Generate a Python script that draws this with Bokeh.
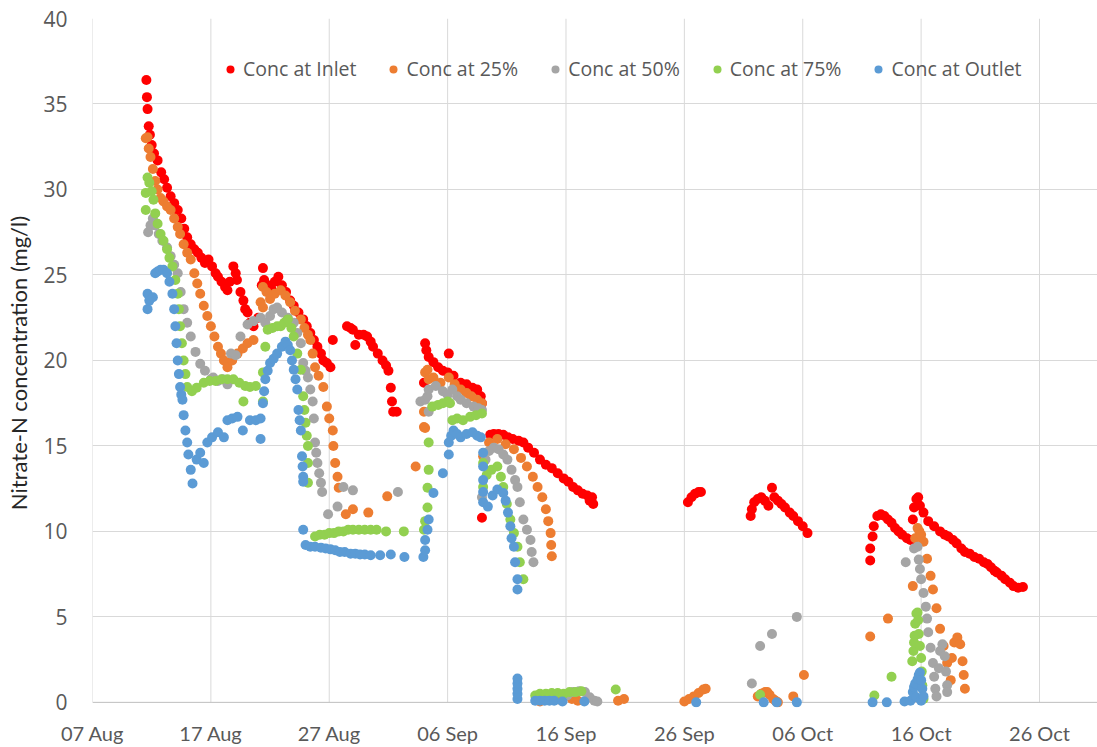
from bokeh.plotting import figure
from bokeh.models import Range1d, FixedTicker, Legend, LegendItem, Span
from bokeh.embed import file_html
from bokeh.resources import INLINE

# x = days after 07 Aug, y = nitrate-N concentration (mg/l)
tick_days = [0, 10, 20, 30, 40, 50, 60, 70, 80]
tick_labels = ["07 Aug", "17 Aug", "27 Aug", "06 Sep", "16 Sep", "26 Sep", "06 Oct", "16 Oct", "26 Oct"]
y_ticks = [0, 5, 10, 15, 20, 25, 30, 35, 40]

series_names = ["Conc at Inlet", "Conc at 25%", "Conc at 50%", "Conc at 75%", "Conc at Outlet"]
series_colors = ["#FF0000", "#ED7D31", "#A5A5A5", "#92D050", "#5B9BD5"]

inlet = [
    (4.55, 36.4), (4.6, 35.4), (4.65, 34.7), (4.75, 33.7), (4.85, 33.2), (5.0, 32.6), (5.2, 32.1), (5.5, 31.7),
    (5.8, 31.0), (6.05, 30.6), (6.3, 30.1), (6.6, 29.6), (6.9, 29.2), (7.2, 28.8), (7.5, 28.3), (7.75, 27.7),
    (8.0, 27.2), (8.3, 26.8), (8.6, 26.5), (8.9, 26.3), (9.2, 26.0), (9.5, 25.7), (9.8, 25.9), (10.1, 25.5),
    (10.4, 25.1), (10.6, 24.9), (10.9, 24.6), (11.2, 24.3), (11.4, 24.1), (11.6, 24.6), (11.9, 25.5), (12.1, 25.1),
    (12.2, 24.7), (12.5, 24.0), (12.75, 23.5), (12.9, 23.0), (13.1, 22.8), (13.3, 22.2), (13.6, 22.0), (14.0, 22.5),
    (14.3, 24.4), (14.4, 25.4), (14.5, 24.7), (14.8, 24.4), (15.1, 24.2), (15.4, 24.6), (15.7, 24.9), (16.0, 24.4),
    (16.35, 24.0), (16.7, 23.5), (17.0, 23.2), (17.4, 22.8), (17.8, 22.4), (18.1, 22.0), (18.4, 21.6), (18.7, 21.2),
    (19.0, 20.8), (19.3, 20.4), (19.5, 20.0), (19.8, 19.85), (20.1, 19.6), (20.3, 21.2),
    (21.5, 22.0), (21.8, 21.9), (22.0, 21.8), (22.2, 20.9), (22.5, 21.5), (22.9, 21.5), (23.2, 21.4), (23.5, 21.1),
    (23.7, 20.8), (24.1, 20.4), (24.5, 20.0), (24.8, 19.7), (25.0, 19.4), (25.2, 18.4), (25.3, 17.6), (25.4, 17.0),
    (25.7, 17.0),
    (28.0, 18.7), (28.1, 21.0), (28.2, 20.6), (28.4, 20.2), (28.8, 19.9), (29.2, 19.6), (29.6, 19.4), (30.0, 19.3),
    (30.1, 20.4), (30.5, 19.1), (31.1, 18.7), (31.6, 18.6), (32.1, 18.4), (32.5, 18.3), (32.8, 17.9), (32.9, 17.5),
    (32.9, 10.8),
    (33.6, 15.65), (33.9, 15.7), (34.3, 15.7), (34.7, 15.65), (35.1, 15.5), (35.5, 15.4), (36.0, 15.3), (36.4, 15.2),
    (36.8, 14.9), (37.3, 14.6), (37.8, 14.2), (38.3, 13.9), (38.8, 13.7), (39.3, 13.4), (39.8, 13.1), (40.2, 12.9),
    (40.6, 12.6), (41.0, 12.4), (41.4, 12.2), (41.8, 12.1), (42.0, 11.8), (42.2, 12.0), (42.3, 11.6),
    (50.3, 11.7), (50.6, 12.0), (50.9, 12.2), (51.2, 12.3), (51.4, 12.3),
    (55.6, 10.9), (55.7, 11.3), (55.9, 11.7), (56.2, 11.9), (56.5, 12.0), (56.8, 11.8), (57.1, 11.5), (57.4, 12.55),
    (57.6, 12.0), (57.9, 11.8), (58.2, 11.6), (58.5, 11.4), (58.9, 11.1), (59.2, 10.9), (59.6, 10.6), (60.0, 10.3),
    (60.4, 9.9),
    (65.7, 8.3), (65.7, 9.0), (65.9, 9.7), (66.0, 10.3), (66.3, 10.9), (66.6, 11.0), (66.9, 10.9), (67.2, 10.7),
    (67.5, 10.5), (67.8, 10.2), (68.1, 10.0), (68.4, 9.8), (68.8, 9.6), (69.1, 9.5), (69.3, 10.7), (69.4, 11.4),
    (69.6, 11.9), (69.75, 12.0), (69.9, 11.5), (70.2, 11.1), (70.6, 10.6), (71.1, 10.3), (71.6, 10.0), (72.0, 9.8),
    (72.3, 9.7), (72.7, 9.5), (73.0, 9.3), (73.4, 9.0), (73.7, 8.8), (74.1, 8.7), (74.5, 8.5), (74.9, 8.4),
    (75.3, 8.2), (75.6, 8.1), (75.9, 7.9), (76.2, 7.7), (76.4, 7.6), (76.8, 7.4), (77.1, 7.2), (77.5, 7.0),
    (77.8, 6.8), (78.2, 6.7), (78.6, 6.75),
]

conc25 = [
    (4.5, 33.0), (4.65, 33.05), (4.75, 32.4), (4.9, 31.9), (5.1, 31.2), (5.3, 30.5), (5.5, 30.0), (5.75, 29.5),
    (6.0, 29.3), (6.3, 29.0), (6.6, 28.8), (6.9, 28.3), (7.2, 27.8), (7.4, 27.4), (7.7, 26.8), (8.0, 26.3),
    (8.3, 25.9), (8.6, 25.1), (8.85, 24.5), (9.1, 23.9), (9.4, 23.2), (9.7, 22.6), (10.0, 22.0), (10.3, 21.4),
    (10.6, 20.8), (10.85, 20.4), (11.1, 20.0), (11.4, 19.6), (11.8, 20.0), (12.25, 20.4), (12.7, 20.7), (13.1, 21.0),
    (13.6, 21.2),
    (14.2, 23.4), (14.4, 23.1), (14.4, 24.3), (14.7, 24.0), (15.0, 23.6), (15.4, 23.9), (15.9, 24.1), (16.3, 23.8),
    (16.7, 23.4), (17.1, 22.9), (17.6, 22.4), (17.9, 21.9), (18.2, 21.5), (18.4, 21.2), (18.6, 20.4), (18.8, 19.6),
    (19.1, 19.1), (19.5, 18.45), (19.8, 17.3), (20.0, 16.6), (20.3, 15.9), (20.35, 15.0), (20.5, 14.0), (20.7, 13.2),
    (20.8, 12.55),
    (21.4, 11.0), (22.0, 11.3), (23.3, 11.1), (24.9, 12.05), (27.3, 13.8),
    (28.0, 17.0), (28.0, 16.1), (28.1, 16.05), (28.1, 19.3), (28.3, 19.45), (28.4, 18.9), (28.8, 19.0), (29.4, 18.7),
    (30.1, 19.0), (30.6, 18.6), (31.1, 18.3), (31.6, 18.1), (32.0, 17.9), (32.5, 17.7), (32.9, 17.5),
    (33.0, 14.4), (33.5, 15.2), (34.2, 15.4), (34.9, 15.1), (35.6, 14.8), (36.2, 14.3), (36.7, 13.8), (37.2, 13.2),
    (37.6, 12.6), (38.0, 12.0), (38.3, 11.3), (38.5, 10.6), (38.7, 9.9), (38.75, 9.2), (38.8, 8.55),
    (37.8, 0.05), (39.5, 0.15), (40.5, 0.2), (41.0, 0.1), (44.4, 0.1), (44.9, 0.2),
    (50.0, 0.05), (50.4, 0.2), (50.8, 0.35), (51.2, 0.55), (51.6, 0.75), (51.8, 0.8),
    (56.2, 0.35), (56.5, 0.5), (56.8, 0.6), (57.0, 0.6), (57.2, 0.45), (57.5, 0.2), (57.7, 0.1), (57.9, 0.0),
    (59.2, 0.35), (60.1, 1.6),
    (65.7, 3.85), (67.2, 4.9), (69.3, 6.8), (69.5, 9.6), (69.7, 10.2), (69.85, 10.0), (70.0, 9.8), (70.2, 9.4),
    (70.5, 8.4), (70.8, 7.4), (71.0, 6.6), (71.3, 5.5), (71.6, 4.3), (71.9, 3.3), (72.2, 2.3), (72.5, 1.3),
    (72.6, 2.6), (72.8, 3.5), (73.06, 3.8), (73.3, 3.4), (73.5, 2.4), (73.6, 1.6), (73.7, 0.8),
]

conc50 = [
    (4.7, 27.5), (4.9, 27.9), (5.1, 28.3), (5.3, 27.9), (5.6, 27.4), (5.9, 27.0), (6.3, 26.6), (6.6, 26.1),
    (6.9, 25.6), (7.2, 25.1), (7.45, 24.0), (7.7, 23.0), (8.0, 22.2), (8.3, 21.4), (8.7, 20.5), (9.1, 19.8),
    (9.5, 19.4), (10.0, 18.9), (10.2, 19.0), (10.6, 18.8), (11.0, 18.9), (11.4, 18.6), (11.7, 20.4), (12.1, 20.3),
    (12.5, 21.4), (13.1, 22.1), (13.6, 22.3), (14.2, 22.5), (14.6, 22.2), (15.0, 22.6), (15.3, 23.0), (15.6, 23.1),
    (16.0, 22.8), (16.5, 22.5), (17.0, 22.2), (17.3, 21.6), (17.6, 21.0), (17.8, 19.85), (18.0, 19.4), (18.2, 19.0),
    (18.4, 18.3), (18.6, 17.6), (18.7, 16.6), (18.8, 15.2), (18.9, 14.6), (19.0, 14.0), (19.15, 13.4), (19.3, 12.85),
    (19.4, 12.3),
    (19.9, 11.0), (20.7, 11.45), (21.2, 12.6), (22.0, 12.4), (25.8, 12.3),
    (27.7, 17.6), (28.1, 17.7), (28.3, 17.9), (28.4, 18.3), (28.4, 17.0), (29.0, 18.5), (29.6, 18.2), (30.0, 18.0),
    (30.4, 18.3), (30.8, 17.9), (31.1, 17.7), (31.6, 17.5), (32.2, 17.3), (32.6, 17.2), (32.9, 17.1), (32.9, 12.0),
    (33.2, 14.2), (33.5, 14.7), (33.9, 14.9), (34.3, 14.8), (34.7, 14.5), (35.05, 14.2), (35.4, 13.6), (35.7, 13.0),
    (35.9, 12.6), (36.1, 11.7), (36.4, 10.7), (36.7, 10.1), (37.0, 9.5), (37.1, 8.8), (37.25, 8.2),
    (40.1, 0.4), (40.6, 0.6), (41.1, 0.65), (41.6, 0.6), (42.0, 0.3), (42.4, 0.1), (42.65, 0.05),
    (55.7, 1.1), (56.4, 3.3), (57.4, 4.0), (59.5, 5.0),
    (68.7, 8.2), (69.4, 9.0), (69.7, 9.1), (69.8, 8.35), (69.9, 7.8), (70.0, 7.2), (70.2, 6.4), (70.4, 5.6),
    (70.5, 4.9), (70.6, 4.1), (70.8, 3.2), (71.0, 2.3), (71.1, 1.5), (71.2, 0.8), (71.3, 0.35), (71.5, 2.0),
    (71.6, 3.0), (71.8, 3.4), (72.0, 2.7), (72.1, 1.8), (72.2, 1.0), (72.2, 0.6),
]

conc75 = [
    (4.5, 28.8), (4.5, 29.8), (4.65, 30.7), (4.8, 30.4), (5.0, 29.9), (5.15, 29.4), (5.3, 28.6), (5.5, 28.0),
    (5.75, 27.4), (6.0, 27.0), (6.3, 26.5), (6.5, 26.0), (6.75, 25.5), (7.0, 24.7), (7.2, 23.9), (7.3, 23.0),
    (7.4, 22.0), (7.55, 21.0), (7.7, 20.0), (7.85, 19.2), (8.0, 18.45), (8.4, 18.2), (8.8, 18.4), (9.4, 18.7),
    (9.9, 18.8), (10.4, 18.8), (10.9, 18.9), (11.4, 18.9), (11.9, 18.9), (12.4, 18.7), (12.75, 17.6), (12.9, 18.5),
    (13.3, 18.45), (13.8, 18.5), (14.4, 19.3), (14.4, 17.6), (14.6, 20.8), (14.8, 21.8), (15.2, 21.9), (15.6, 22.0),
    (15.9, 22.0), (16.2, 22.2), (16.5, 22.4), (16.8, 21.9), (17.0, 21.4), (17.3, 20.4), (17.6, 19.45), (17.8, 17.9),
    (17.9, 17.1), (18.0, 16.35), (18.1, 15.6), (18.2, 15.0), (18.2, 14.0), (18.2, 12.85),
    (18.8, 9.7), (19.2, 9.8), (19.6, 9.8), (20.0, 9.9), (20.4, 9.9), (20.8, 10.0), (21.2, 10.0), (21.6, 10.1),
    (22.0, 10.1), (22.5, 10.1), (23.0, 10.1), (23.5, 10.1), (24.0, 10.1), (24.8, 10.0), (26.3, 10.0),
    (28.0, 10.1), (28.1, 10.6), (28.3, 11.4), (28.3, 12.55), (28.4, 13.6), (28.4, 15.2), (28.7, 17.3), (29.2, 17.4),
    (29.6, 17.5), (30.0, 17.6), (30.2, 17.5), (30.4, 16.5), (30.8, 16.6), (31.3, 16.5), (31.9, 16.7), (32.4, 16.8),
    (32.9, 16.9), (33.0, 14.0), (33.0, 12.6), (33.3, 13.3), (33.7, 13.6), (34.2, 13.8), (34.5, 13.2), (34.7, 12.6),
    (35.0, 11.6), (35.3, 10.7), (35.6, 9.9), (35.9, 9.1), (36.1, 8.2), (36.4, 7.2),
    (37.4, 0.4), (37.8, 0.5), (38.3, 0.5), (38.8, 0.55), (39.3, 0.55), (39.8, 0.5), (40.3, 0.6), (40.8, 0.6),
    (41.3, 0.65), (44.2, 0.75),
    (56.4, 0.45), (66.05, 0.4), (67.5, 1.5), (69.25, 2.4), (69.35, 3.0), (69.4, 3.5), (69.45, 3.9), (69.5, 4.6),
    (69.6, 5.2), (69.7, 5.25), (69.75, 4.8), (69.8, 4.0), (69.9, 3.3), (70.0, 2.6), (70.05, 1.8), (70.1, 1.0),
    (70.2, 0.2),
]

outlet = [
    (4.65, 23.0), (4.65, 23.9), (4.8, 23.5), (5.1, 23.7), (5.3, 25.1), (5.5, 25.2), (5.75, 25.3), (6.0, 25.3),
    (6.3, 25.1), (6.5, 24.6), (6.75, 23.9), (6.9, 23.0), (7.0, 22.0), (7.1, 21.0), (7.2, 20.0), (7.3, 19.2),
    (7.4, 18.45), (7.5, 18.0), (7.6, 17.7), (7.7, 16.8), (7.85, 15.9), (8.0, 15.2), (8.1, 14.5), (8.3, 13.6),
    (8.45, 12.8), (8.8, 14.2), (9.1, 14.6), (9.4, 14.0), (9.7, 15.2), (10.1, 15.5), (10.6, 15.8), (11.1, 15.5),
    (11.4, 16.5), (11.8, 16.6), (12.25, 16.7), (12.7, 15.9), (13.3, 16.5), (13.8, 16.5), (14.2, 16.6), (14.2, 15.4),
    (14.4, 17.5), (14.5, 18.2), (14.6, 18.9), (14.8, 19.4), (15.0, 19.85), (15.3, 20.1), (15.6, 20.4), (16.0, 20.8),
    (16.3, 21.1), (16.5, 20.9), (16.7, 20.6), (16.85, 20.0), (17.0, 19.45), (17.15, 18.9), (17.3, 18.3), (17.4, 17.1),
    (17.5, 16.5), (17.6, 15.9), (17.7, 14.4), (17.75, 13.8), (17.8, 13.2), (17.8, 12.9),
    (17.8, 10.1), (18.0, 9.2), (18.4, 9.1), (18.8, 9.1), (19.3, 9.05), (19.7, 9.0), (20.1, 8.95), (20.5, 8.9),
    (20.9, 8.8), (21.3, 8.8), (21.8, 8.7), (22.2, 8.7), (22.6, 8.65), (23.0, 8.65), (23.5, 8.6), (24.3, 8.6),
    (25.2, 8.65), (26.35, 8.5),
    (27.95, 8.5), (28.1, 8.9), (28.1, 9.5), (28.3, 10.1), (28.4, 10.7), (28.8, 12.25), (29.6, 13.4), (30.1, 14.5),
    (30.1, 15.2), (30.3, 15.6), (30.5, 15.9), (30.8, 15.7), (31.1, 15.5), (31.6, 15.7), (32.1, 15.8), (32.5, 15.6),
    (32.8, 15.5), (33.0, 14.6), (33.0, 13.8), (33.0, 13.0), (33.0, 12.3), (33.0, 11.7), (33.4, 11.45), (33.8, 12.1),
    (34.2, 12.45), (34.7, 12.25), (34.9, 11.8), (35.1, 11.1), (35.3, 10.3), (35.4, 9.6), (35.6, 9.1), (35.7, 8.2),
    (35.9, 7.2), (35.9, 6.6),
    (35.9, 0.2), (35.9, 0.5), (35.9, 0.8), (35.9, 1.1), (35.9, 1.4), (37.4, 0.1), (37.8, 0.1), (38.2, 0.1),
    (38.6, 0.1), (39.0, 0.1), (39.7, 0.05), (41.55, 0.05),
    (51.0, 0.0),
    (56.7, 0.0), (57.8, 0.0), (59.5, 0.0),
    (65.9, 0.0), (67.1, 0.0), (68.6, 0.05), (69.1, 0.1), (69.3, 0.6), (69.4, 0.9), (69.5, 1.1), (69.6, 0.3),
    (69.7, 1.35), (69.8, 1.6), (69.9, 1.75), (70.0, 1.3), (70.0, 0.1), (70.1, 0.8), (70.2, 0.35),
]

all_series = [inlet, conc25, conc50, conc75, outlet]

GRID = "#D9D9D9"
TXT = "#595959"

p = figure(width=1097, height=747, output_backend="svg", toolbar_location=None,
           x_range=Range1d(0, 84.9), y_range=Range1d(-0.3, 40),
           min_border_left=92, min_border_right=0, min_border_top=18, min_border_bottom=39)
p.outline_line_color = None
p.background_fill_color = "white"
p.border_fill_color = "white"

# grid
p.xgrid.visible = False
p.ygrid.ticker = FixedTicker(ticks=[t for t in y_ticks if t > 0])
p.ygrid.grid_line_color = GRID
p.ygrid.grid_line_width = 1
p.segment(x0=tick_days, y0=[0] * len(tick_days), x1=tick_days, y1=[y_ticks[-1]] * len(tick_days),
          line_color=GRID, line_width=1, level="underlay")
p.add_layout(Span(location=0, dimension="width", line_color="#BFBFBF", line_width=1, level="underlay"))

# axes
p.xaxis.ticker = FixedTicker(ticks=tick_days)
p.xaxis.major_label_overrides = {d: l for d, l in zip(tick_days, tick_labels)}
p.xaxis.axis_line_color = None
p.xaxis.major_tick_line_color = None
p.xaxis.minor_tick_line_color = None
p.xaxis.major_tick_out = 0
p.xaxis.major_tick_in = 0
p.xaxis.minor_tick_out = 0
p.xaxis.major_label_standoff = 13
p.xaxis.major_label_text_font = "Lato"
p.xaxis.major_label_text_font_size = "20px"
p.xaxis.major_label_text_color = TXT

p.yaxis.ticker = FixedTicker(ticks=y_ticks)
p.yaxis.axis_line_color = None
p.yaxis.major_tick_line_color = None
p.yaxis.minor_tick_line_color = None
p.yaxis.major_tick_out = 0
p.yaxis.major_tick_in = 0
p.yaxis.minor_tick_out = 0
p.yaxis.major_label_standoff = 25
p.yaxis.major_label_text_font = "Open Sans"
p.yaxis.major_label_text_font_size = "21px"
p.yaxis.major_label_text_color = TXT
p.yaxis.axis_label = "Nitrate-N concentration (mg/l)"
p.yaxis.axis_label_text_font = "Lato"
p.yaxis.axis_label_text_font_size = "22px"
p.yaxis.axis_label_text_font_style = "normal"
p.yaxis.axis_label_text_color = "#262626"
p.yaxis.axis_label_standoff = 8

items = []
for name, color, data in zip(series_names, series_colors, all_series):
    xs = [d for d, _ in data]
    ys = [v for _, v in data]
    r = p.scatter(xs, ys, size=10, fill_color=color, line_color=None)
    items.append(LegendItem(label=name, renderers=[r]))

legend = Legend(items=items, orientation="horizontal", location=(128, 625),
                border_line_color=None, background_fill_alpha=0, padding=0, margin=0,
                spacing=27, label_standoff=3, glyph_width=20, glyph_height=20,
                label_text_font="Open Sans", label_text_font_size="19.5px", label_text_color=TXT)
p.add_layout(legend)

open("out.html", "w").write(file_html(p, INLINE))
